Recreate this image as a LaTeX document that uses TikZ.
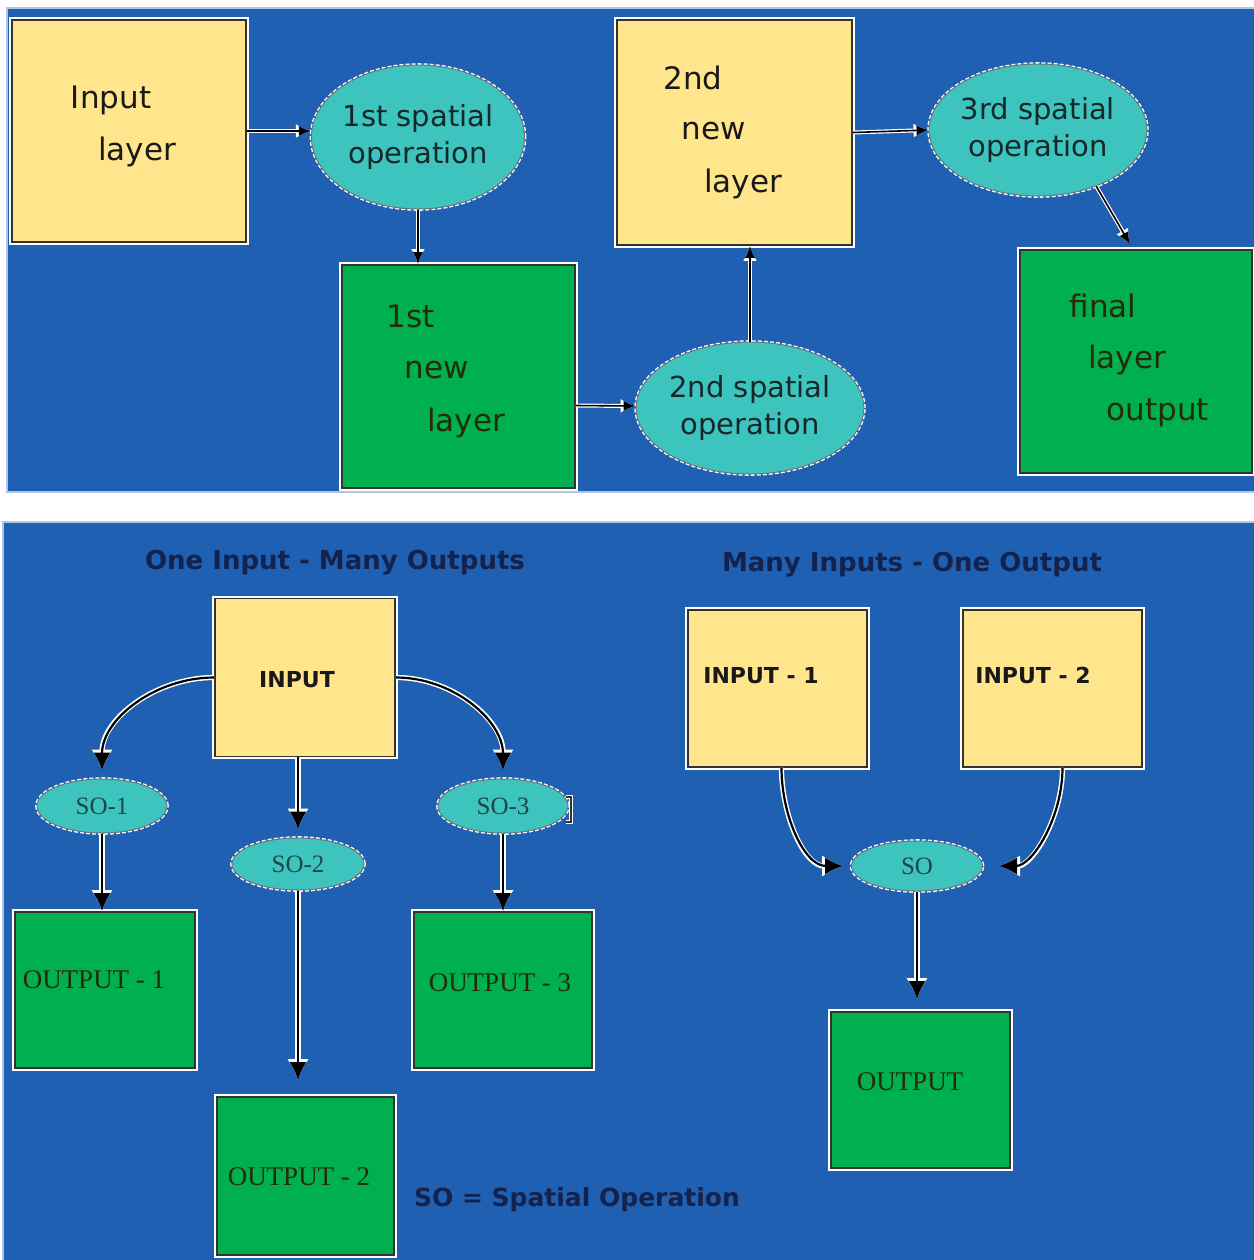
\documentclass[tikz,border=0pt]{standalone}
\usepackage{fontspec}
\setmainfont{DejaVu Sans}
\newfontfamily\serifA{Liberation Serif}
\usetikzlibrary{shapes.geometric,arrows.meta,calc}
\definecolor{bgblue}{RGB}{31,96,178}
\definecolor{panelline}{RGB}{175,198,228}
\definecolor{yel}{RGB}{255,230,140}
\definecolor{grn}{RGB}{0,176,80}
\definecolor{tl}{RGB}{62,196,190}
\definecolor{optext}{RGB}{20,40,40}
\definecolor{gtext}{RGB}{38,44,10}
\definecolor{navy}{RGB}{20,34,78}
\definecolor{sotext}{RGB}{30,70,72}
\begin{document}
\begin{tikzpicture}[x=0.5pt,y=-0.5pt,
  ybox/.style={rectangle, fill=yel, draw=black!80, line width=0.9pt,
    preaction={draw=white, line width=2.6pt}, inner sep=0pt},
  gbox/.style={ybox, fill=grn},
  oval/.style={ellipse, fill=tl, draw=black!55, line width=0.5pt,
    preaction={draw=white, line width=1.8pt, dash pattern=on 2pt off 1pt},
    inner sep=0pt, align=center},
  toptxt/.style={font=\fontsize{15.5}{18}\selectfont, text=black!90, inner sep=0pt},
  gtxt/.style={toptxt, text=gtext},
  optxt/.style={font=\fontsize{14.5}{18.5}\selectfont, text=optext},
  ttl/.style={font=\bfseries\fontsize{13}{15}\selectfont, text=navy, inner sep=0pt},
  btxt/.style={font=\bfseries\fontsize{11}{13}\selectfont, text=black!90, inner sep=0pt},
  otxt/.style={font=\serifA\fontsize{13.5}{15}\selectfont, text=gtext, inner sep=0pt},
  sotxt/.style={font=\serifA\fontsize{12.5}{14}\selectfont, text=sotext},
  tarr/.style={draw=black, line width=0.8pt, -{Latex[length=6pt,width=5pt]},
    preaction={draw=white, line width=2pt, -{Latex[length=7.5pt,width=7pt]}}},
  barr/.style={draw=black, line width=1.1pt, -{Latex[length=9pt,width=8.5pt]},
    preaction={draw=white, line width=2.6pt, -{Latex[length=10.5pt,width=11pt]}}}
]
\useasboundingbox (0,0) rectangle (1254,1260);
\fill[white] (0,0) rectangle (1254,1260);
% panels
\fill[bgblue, draw=panelline, line width=1pt] (7,8) rectangle (1256,492);
\fill[bgblue, draw=panelline, line width=1pt] (3,522) rectangle (1256,1262);

% ---------- top panel ----------
\node[ybox, minimum width=117pt, minimum height=111pt] (inl) at (129,131) {};
\node[toptxt] (inlA) at (111,100) {Input};
\node[toptxt] (inlB) at (137,152) {layer};

\node[oval, optxt, minimum width=105pt, minimum height=72pt] (op1) at (418,137) {1st spatial\\operation};

\node[gbox, minimum width=116.5pt, minimum height=111.5pt] (nl1) at (458.5,376.5) {};
\node[gtxt] (nl1A) at (411,316) {1st};
\node[gtxt] (nl1B) at (437,370) {new};
\node[gtxt] (nl1C) at (466,423) {layer};

\node[oval, optxt, minimum width=107pt, minimum height=66pt] (op2) at (750,408) {2nd spatial\\operation};

\node[ybox, minimum width=117.5pt, minimum height=112.5pt] (nl2) at (734.5,132.5) {};
\node[toptxt] (nl2A) at (693,78) {2nd};
\node[toptxt] (nl2B) at (714,131) {new};
\node[toptxt] (nl2C) at (743,184) {layer};

\node[oval, optxt, minimum width=107pt, minimum height=66pt] (op3) at (1038,130) {3rd spatial\\operation};

\node[gbox, minimum width=116pt, minimum height=111.5pt] (fin) at (1136,361.5) {};
\node[gtxt] (finA) at (1103,306) {final};
\node[gtxt] (finB) at (1127,360) {layer};
\node[gtxt] (finC) at (1158,413) {output};

\draw[tarr] (inl.east) -- (inl.east -| op1.west);
\draw[tarr] (op1.south) -- (op1.south |- nl1.north);
\draw[tarr] ($(nl1.east)+(0,29)$) -- ($(op2.west)+(0,-2)$);
\draw[tarr] (op2.north) -- (op2.north |- nl2.south);
\draw[tarr] (nl2.east) -- (op3.west);
\draw[tarr] (op3.-44) -- ($(fin.north)+(-6,-5)$);

% ---------- bottom panel ----------
\node[ttl] (t1) at (335,563) {One Input - Many Outputs};
\node[ttl] (t2) at (912,565) {Many Inputs - One Output};

\node[ybox, minimum width=90pt, minimum height=79pt] (inp) at (305,677.5) {};
\node[btxt] (inpT) at (297,680) {INPUT};

\node[oval, sotxt, minimum width=65pt, minimum height=27pt] (so1) at (102,806) {SO-1};
\node[oval, sotxt, minimum width=66pt, minimum height=26pt] (so2) at (298,864) {SO-2};
\node[oval, sotxt, minimum width=65pt, minimum height=27pt] (so3) at (503,806) {SO-3};
\draw[black!80, line width=0.8pt, preaction={draw=white, line width=2pt}]
  (566,797) -- (571,797) -- (571,822) -- (566,822);

\node[gbox, minimum width=90pt, minimum height=78pt] (out1) at (105,990) {};
\node[otxt] (out1T) at (94,980) {OUTPUT - 1};
\node[gbox, minimum width=89pt, minimum height=78pt] (out3) at (503,990) {};
\node[otxt] (out3T) at (500,983) {OUTPUT - 3};
\node[gbox, minimum width=88.5pt, minimum height=79pt] (out2) at (305.5,1176) {};
\node[otxt] (out2T) at (299,1177) {OUTPUT - 2};

\node[ttl, font=\bfseries\fontsize{12.5}{15}\selectfont] (legend) at (577,1200) {SO = Spatial Operation};

\draw[barr, shorten >=4pt] (inp.west) to[out=180, in=90] (so1.north);
\draw[barr, shorten >=4pt] (inp.east) to[out=0, in=90] (so3.north);
\draw[barr, shorten >=4pt] (so2.north |- inp.south) -- (so2.north);
\draw[barr] (so1.south) -- (so1.south |- out1.north);
\draw[barr] (so3.south) -- (so3.south |- out3.north);
\draw[barr, shorten >=8pt] (so2.south) -- (so2.south |- out2.north);

\node[ybox, minimum width=89.5pt, minimum height=78.5pt] (in1) at (777.5,688.5) {};
\node[btxt] (in1T) at (761,676) {INPUT - 1};
\node[ybox, minimum width=89.5pt, minimum height=78.5pt] (in2) at (1052.5,688.5) {};
\node[btxt] (in2T) at (1033,675) {INPUT - 2};

\node[oval, sotxt, minimum width=65.5pt, minimum height=25pt] (so) at (917,866) {SO};

\node[gbox, minimum width=89.5pt, minimum height=78pt] (out) at (920.5,1090) {};
\node[otxt] (outT) at (910,1082) {OUTPUT};

\draw[barr, shorten >=4pt] ([xshift=2pt]in1.south) to[out=-90, in=180] (so.west);
\draw[barr, shorten >=8pt] ([xshift=5pt]in2.south) to[out=-90, in=0] (so.east);
\draw[barr, shorten >=6pt] (so.south) -- (so.south |- out.north);
\end{tikzpicture}
\end{document}
